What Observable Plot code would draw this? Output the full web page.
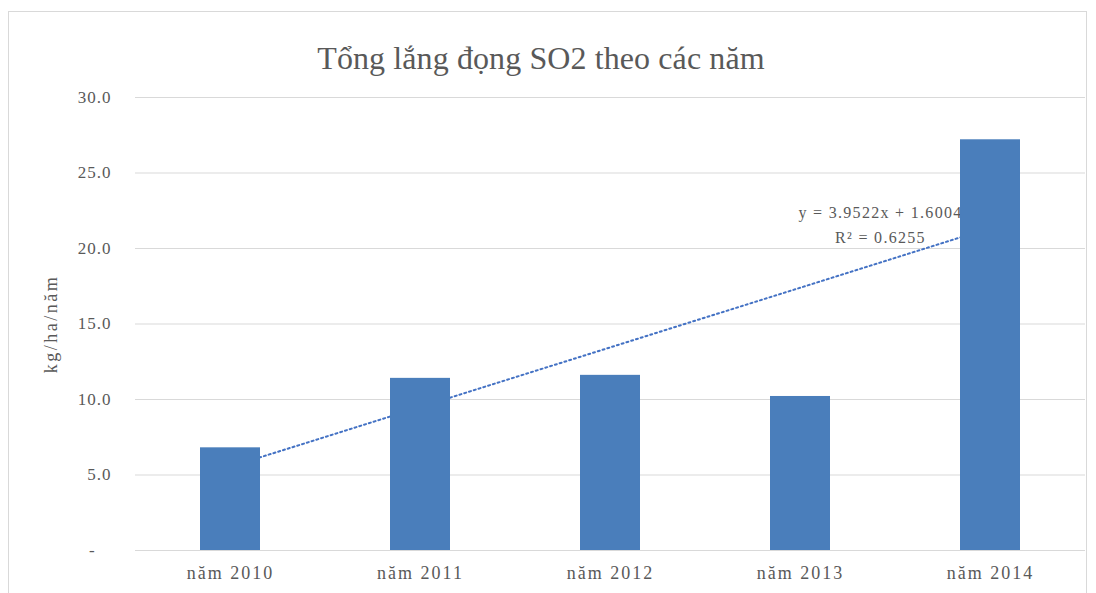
<!DOCTYPE html>
<html>
<head>
<meta charset="utf-8">
<script src="https://cdn.jsdelivr.net/npm/d3@7"></script>
<script src="https://cdn.jsdelivr.net/npm/@observablehq/plot@0.6"></script>
<style>
  html, body { margin: 0; padding: 0; background: #fff; overflow: hidden; }
  #wrap { position: relative; width: 1096px; height: 593px; }
  #border { position: absolute; left: 8px; top: 11px; width: 1079px; height: 600px; border: 1px solid #d9d9d9; box-sizing: border-box; }
  #title { position: absolute; left: -7px; width: 1096px; top: 40px; text-align: center;
           font-family: "Liberation Serif", "Times New Roman", serif; font-size: 32px; color: #595959; letter-spacing: 0.1px; }
  #chart { position: absolute; left: 0; top: 0; }
  #chart svg { font-family: "Liberation Serif", "Times New Roman", serif; }
  #chart g[aria-label="x-axis tick label"] text { letter-spacing: 2px; }
  #chart g[aria-label="y-axis tick label"] text { letter-spacing: 1px; }
  #chart g[aria-description="ylabel"] text { letter-spacing: 2.5px; }
  #chart g[aria-description="trendlabel"] text { letter-spacing: 1.3px; }
</style>
</head>
<body>
<div id="wrap">
  <div id="border"></div>
  <div id="title">Tổng lắng đọng SO2 theo các năm</div>
  <div id="chart"></div>
</div>
<script>
// Categories and series values
const years = ["năm 2010", "năm 2011", "năm 2012", "năm 2013", "năm 2014"];
const values = [6.8, 11.4, 11.6, 10.2, 27.2];
const yTicks = [0, 5, 10, 15, 20, 25, 30];
const yLabel = "kg/ha/năm";
// Linear trendline as printed on the chart
const trendSlope = 3.9522;
const trendIntercept = 1.6004;
const trendLabels = ["y = 3.9522x + 1.6004", "R² = 0.6255"];

const data = years.map((year, i) => ({year, value: values[i]}));
const trend = years.map((year, i) => ({year, value: trendSlope * (i + 1) + trendIntercept}));

const gray = "#595959";
const chart = Plot.plot({
  width: 1096,
  height: 593,
  marginTop: 97,
  marginBottom: 43,
  marginLeft: 135,
  marginRight: 11,
  style: {background: "transparent", fontFamily: "Liberation Serif, Times New Roman, serif"},
  x: {domain: years, paddingInner: 0.684, paddingOuter: 0.342, label: null},
  y: {domain: [0, 30], label: null},
  marks: [
    Plot.gridY(yTicks, {stroke: "#d9d9d9", strokeOpacity: 1, strokeWidth: 1}),
    Plot.line(trend, {x: "year", y: "value", stroke: "#4472c4", strokeWidth: 2, strokeDasharray: "2,3"}),
    Plot.text([trendLabels[0]], {x: () => years[4], y: () => 22.0, text: d => d, dx: -110, fill: gray, fontSize: 16, lineAnchor: "bottom", textAnchor: "middle", ariaDescription: "trendlabel"}),
    Plot.text([trendLabels[1]], {x: () => years[4], y: () => 20.35, text: d => d, dx: -110, fill: gray, fontSize: 16, lineAnchor: "bottom", textAnchor: "middle", ariaDescription: "trendlabel"}),
    Plot.barY(data, {x: "year", y: "value", fill: "#4a7ebb"}),
    Plot.axisY(yTicks, {tickSize: 0, tickPadding: 24, fontSize: 17, fill: gray,
      tickFormat: d => d === 0 ? "-\u00a0\u00a0\u00a0" : d.toFixed(1), label: null}),
    Plot.axisX({tickSize: 0, tickPadding: 16, fontSize: 18, fill: gray, label: null}),
    Plot.text([yLabel], {frameAnchor: "left", textAnchor: "middle", text: d => d, dx: -84, rotate: -90, fill: gray, fontSize: 18, ariaDescription: "ylabel"})
  ]
});
document.getElementById("chart").appendChild(chart);
</script>
</body>
</html>
